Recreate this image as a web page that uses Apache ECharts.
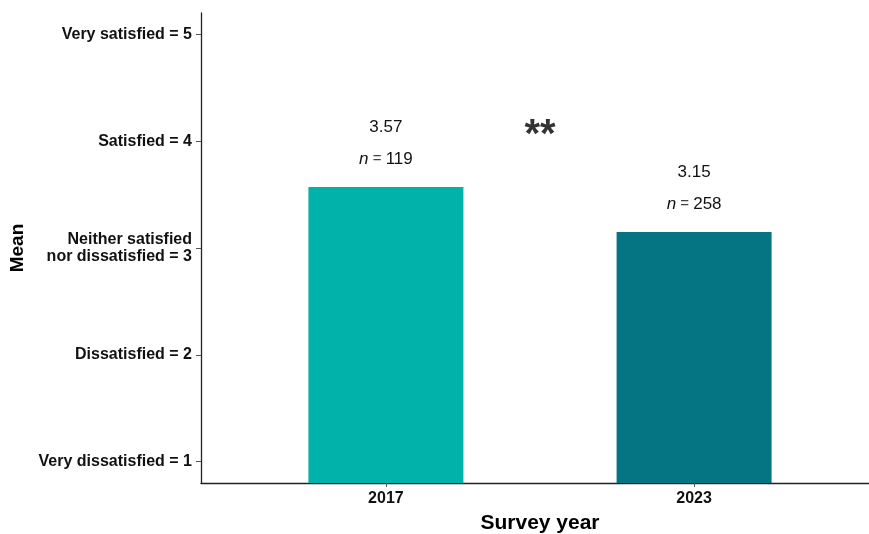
<!DOCTYPE html>
<html>
<head>
<meta charset="utf-8">
<script src="https://cdn.jsdelivr.net/npm/echarts@6/dist/echarts.min.js"></script>
<style>
  html, body { margin: 0; padding: 0; background: #ffffff; }
  #chart { width: 869px; height: 534px; }
</style>
</head>
<body>
<div id="chart"></div>
<script>
// Mean satisfaction by survey year
const years = ['2017', '2023'];
const yearPositions = [1, 2];
const meanValues = [3.57, 3.15];
const sampleSizes = [119, 258];
const barColors = ['#01B2AA', '#057584'];

// Scale points on the satisfaction axis
const scaleValues = [1, 2, 3, 4, 5];
const scaleLabels = [
  'Very dissatisfied = 1',
  'Dissatisfied = 2',
  'Neither satisfied\nnor dissatisfied = 3',
  'Satisfied = 4',
  'Very satisfied = 5'
];

// Significance marker placed between the two bars
const sigMarker = { x: 1.5, y: 4.05, text: '**' };

const FONT = '"Liberation Sans", Arial, sans-serif';

const chart = echarts.init(document.getElementById('chart'), null, { renderer: 'canvas' });

const option = {
  backgroundColor: '#ffffff',
  animation: false,
  grid: { left: 201, right: -10, top: 13, bottom: 51, containLabel: false, outerBoundsMode: 'none' },
  xAxis: {
    type: 'value',
    min: 0.4,
    max: 2.6,
    name: 'Survey year',
    nameLocation: 'middle',
    nameGap: 30,
    nameTextStyle: { fontFamily: FONT, fontSize: 21, fontWeight: 'bold', color: '#000' },
    splitLine: { show: false },
    axisLine: { show: true, onZero: false, lineStyle: { color: '#222', width: 1.3 } },
    axisTick: { show: true, length: 4, lineStyle: { color: '#555' }, customValues: yearPositions },
    axisLabel: {
      customValues: yearPositions,
      margin: 8,
      fontFamily: FONT, fontSize: 16, fontWeight: 'bold', color: '#111',
      formatter: v => years[yearPositions.indexOf(Math.round(v))] || ''
    }
  },
  yAxis: {
    type: 'value',
    min: 0.8,
    max: 5.2,
    name: 'Mean',
    nameLocation: 'middle',
    nameGap: 168,
    nameRotate: 90,
    nameTextStyle: { fontFamily: FONT, fontSize: 19, fontWeight: 'bold', color: '#000' },
    splitLine: { show: false },
    axisLine: { show: true, onZero: false, lineStyle: { color: '#222', width: 1.3 } },
    axisTick: { show: true, length: 5, lineStyle: { color: '#555' }, customValues: scaleValues },
    axisLabel: {
      customValues: scaleValues,
      margin: 9,
      align: 'right',
      lineHeight: 17,
      fontFamily: FONT, fontSize: 16, fontWeight: 'bold', color: '#111',
      formatter: v => scaleLabels[scaleValues.indexOf(Math.round(v))] || ''
    }
  },
  series: [
    {
      type: 'bar',
      barWidth: 155,
      data: yearPositions.map((x, i) => ({
        value: [x, meanValues[i]],
        itemStyle: { color: barColors[i] },
        label: {
          show: true,
          position: 'top',
          distance: 12,
          formatter: '{v|' + meanValues[i].toFixed(2) + '}\n{n|n}{eq| = }{v|' + sampleSizes[i] + '}',
          rich: {
            v: { fontFamily: FONT, fontSize: 17, color: '#111', lineHeight: 32 },
            n: { fontFamily: FONT, fontSize: 17, fontStyle: 'italic', color: '#111', lineHeight: 32 },
            eq: { fontFamily: FONT, fontSize: 15, color: '#444', lineHeight: 32 }
          }
        }
      }))
    },
    {
      type: 'scatter',
      symbolSize: 0,
      silent: true,
      data: [[sigMarker.x, sigMarker.y]],
      label: {
        show: true,
        position: 'inside',
        formatter: sigMarker.text,
        fontFamily: FONT, fontSize: 40, fontWeight: 'bold', color: '#000'
      }
    }
  ]
};

chart.setOption(option);
</script>
</body>
</html>
